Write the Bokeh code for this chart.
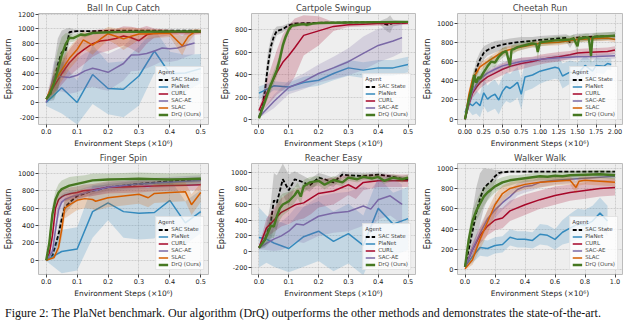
import numpy as np
from bokeh.plotting import figure
from bokeh.layouts import gridplot, column
from bokeh.models import Range1d, FixedTicker, PrintfTickFormatter, Legend, LegendItem, Div
from bokeh.embed import file_html
from bokeh.resources import INLINE

AGENTS = ["SAC State", "PlaNet", "CURL", "SAC-AE", "SLAC", "DrQ (Ours)"]
COLORS = ["#000000", "#348ABD", "#A60628", "#7A68A6", "#D55E00", "#467821"]
TITLES = ["Ball In Cup Catch", "Cartpole Swingup", "Cheetah Run",
          "Finger Spin", "Reacher Easy", "Walker Walk"]
XLABEL = "Environment Steps (×10⁶)"
YLABEL = "Episode Return"

# ---------------- Ball In Cup Catch ----------------
BIC_SAC_X = [0, 0.0125, 0.025, 0.0375, 0.05, 0.0625, 0.075, 0.0875, 0.1, 0.15, 0.2, 0.25, 0.3, 0.35, 0.4, 0.45, 0.5]
BIC_SAC_Y = [45, 100, 280, 520, 680, 700, 955, 965, 970, 970, 975, 975, 975, 975, 975, 975, 975]
BIC_SAC_S = [20, 80, 250, 350, 300, 300, 60, 30, 20, 15, 15, 15, 15, 15, 15, 15, 15]
BIC_PLA_X = [0, 0.05, 0.1, 0.15, 0.2, 0.25, 0.3, 0.35, 0.4, 0.45, 0.5]
BIC_PLA_Y = [0, 200, 0, 380, 190, 180, 360, 700, 390, 400, 460]
BIC_PLA_S = [50, 350, 300, 400, 350, 380, 400, 300, 300, 250, 200]
BIC_CUR_X = [0, 0.025, 0.05, 0.075, 0.1, 0.125, 0.15, 0.175, 0.2, 0.225, 0.25, 0.275, 0.3, 0.325, 0.35, 0.4, 0.45, 0.5]
BIC_CUR_Y = [45, 220, 390, 540, 650, 730, 800, 835, 850, 870, 905, 880, 840, 920, 945, 950, 950, 955]
BIC_CUR_S = [20, 100, 150, 180, 200, 200, 180, 160, 150, 130, 130, 150, 170, 120, 60, 40, 30, 30]
BIC_SAE_X = [0, 0.025, 0.05, 0.075, 0.1, 0.125, 0.15, 0.175, 0.2, 0.225, 0.25, 0.275, 0.3, 0.325, 0.35, 0.375, 0.4, 0.425, 0.45, 0.48]
BIC_SAE_Y = [0, 360, 350, 340, 370, 430, 465, 440, 410, 470, 530, 645, 650, 665, 700, 740, 730, 740, 775, 810]
BIC_SAE_S = [20, 200, 200, 220, 230, 240, 250, 260, 250, 240, 230, 220, 220, 200, 190, 180, 180, 170, 160, 150]
BIC_SLA_X = [0, 0.025, 0.05, 0.075, 0.1, 0.12, 0.15, 0.175, 0.2, 0.225, 0.25, 0.275, 0.3, 0.35, 0.4, 0.44, 0.46, 0.48, 0.5]
BIC_SLA_Y = [45, 280, 440, 600, 720, 850, 780, 860, 935, 900, 865, 900, 930, 935, 940, 770, 900, 960, 970]
BIC_SLA_S = [20, 150, 150, 150, 150, 120, 130, 110, 90, 110, 150, 120, 80, 60, 50, 130, 80, 40, 30]
BIC_DRQ_X = [0, 0.0125, 0.025, 0.0375, 0.05, 0.0625, 0.075, 0.0875, 0.1, 0.1125, 0.125, 0.15, 0.175, 0.2, 0.25, 0.3, 0.35, 0.4, 0.45, 0.5]
BIC_DRQ_Y = [45, 120, 260, 440, 640, 790, 880, 875, 900, 925, 915, 945, 950, 955, 960, 962, 963, 965, 965, 965]
BIC_DRQ_S = [20, 80, 200, 280, 250, 150, 60, 50, 40, 30, 30, 20, 20, 15, 15, 15, 15, 15, 15, 15]

# ---------------- Cartpole Swingup ----------------
CPS_SAC_X = [0, 0.01, 0.02, 0.03, 0.04, 0.05, 0.06, 0.08, 0.1, 0.12, 0.15, 0.2, 0.3, 0.4, 0.43, 0.44, 0.45, 0.5]
CPS_SAC_Y = [20, 100, 250, 480, 650, 740, 790, 805, 840, 855, 858, 862, 865, 866, 845, 850, 860, 868]
CPS_SAC_S = [10, 60, 100, 120, 80, 60, 40, 30, 20, 15, 10, 8, 8, 8, 60, 80, 30, 8]
CPS_PLA_X = [0, 0.05, 0.1, 0.15, 0.2, 0.25, 0.3, 0.35, 0.4, 0.45, 0.5]
CPS_PLA_Y = [235, 300, 290, 330, 350, 410, 460, 440, 460, 460, 490]
CPS_PLA_S = [60, 40, 40, 50, 50, 60, 70, 70, 70, 70, 70]
CPS_CUR_X = [0, 0.02, 0.04, 0.06, 0.08, 0.1, 0.12, 0.15, 0.2, 0.25, 0.3, 0.35, 0.4, 0.45, 0.5]
CPS_CUR_Y = [80, 200, 310, 420, 510, 570, 640, 750, 790, 830, 845, 850, 855, 858, 860]
CPS_CUR_S = [20, 100, 150, 200, 250, 270, 260, 180, 130, 40, 20, 20, 20, 20, 15]
CPS_SAE_X = [0, 0.05, 0.1, 0.15, 0.2, 0.25, 0.3, 0.35, 0.4, 0.45, 0.48]
CPS_SAE_Y = [20, 160, 285, 340, 410, 460, 515, 590, 660, 700, 730]
CPS_SAE_S = [10, 60, 60, 70, 80, 100, 120, 150, 150, 140, 130]
CPS_DRQ_X = [0, 0.02, 0.04, 0.06, 0.07, 0.08, 0.09, 0.1, 0.11, 0.13, 0.15, 0.16, 0.18, 0.2, 0.3, 0.4, 0.5]
CPS_DRQ_Y = [10, 160, 310, 440, 540, 660, 740, 800, 835, 845, 850, 845, 855, 860, 865, 868, 870]
CPS_DRQ_S = [10, 40, 60, 60, 60, 50, 40, 30, 20, 15, 12, 20, 12, 10, 8, 8, 8]

# ---------------- Cheetah Run ----------------
CHR_SAC_X = [0, 0.05, 0.1, 0.15, 0.2, 0.25, 0.3, 0.4, 0.5, 0.6, 0.75, 0.9, 1.0, 1.1, 1.25, 1.35, 1.4, 1.45, 1.5, 1.6, 1.75, 1.9, 2.0]
CHR_SAC_Y = [0, 180, 340, 520, 620, 690, 720, 755, 775, 790, 805, 815, 825, 830, 840, 845, 800, 845, 850, 855, 860, 865, 870]
CHR_SAC_S = [5, 60, 80, 90, 80, 70, 60, 60, 50, 50, 50, 40, 40, 40, 40, 40, 60, 40, 40, 40, 40, 40, 40]
CHR_PLA_X = [0, 0.05, 0.1, 0.15, 0.2, 0.25, 0.3, 0.35, 0.4, 0.45, 0.5, 0.55, 0.6, 0.65, 0.7, 0.75, 0.8, 0.9, 1.0, 1.1, 1.2, 1.25, 1.3, 1.4, 1.5, 1.6, 1.7, 1.75, 1.85, 1.9, 1.95]
CHR_PLA_Y = [70, 170, 140, 180, 140, 275, 210, 240, 260, 200, 290, 340, 320, 350, 385, 260, 440, 460, 500, 520, 540, 530, 450, 490, 470, 560, 500, 560, 550, 580, 570]
CHR_PLA_S = [30, 80, 100, 120, 120, 140, 140, 150, 150, 150, 150, 150, 150, 160, 160, 160, 150, 140, 130, 120, 120, 120, 130, 120, 120, 100, 100, 80, 80, 60, 60]
CHR_CUR_X = [0, 0.05, 0.1, 0.15, 0.2, 0.3, 0.4, 0.5, 0.6, 0.75, 0.9, 1.0, 1.1, 1.25, 1.4, 1.5, 1.6, 1.75, 1.9, 2.0]
CHR_CUR_Y = [0, 150, 270, 330, 380, 440, 480, 520, 550, 580, 600, 620, 635, 650, 670, 690, 695, 700, 705, 720]
CHR_CUR_S = [5, 40, 50, 60, 60, 60, 60, 60, 60, 60, 50, 50, 50, 50, 40, 40, 40, 40, 40, 40]
CHR_SAE_X = [0, 0.05, 0.1, 0.15, 0.2, 0.3, 0.4, 0.5, 0.6, 0.75, 0.9, 1.0, 1.25, 1.5, 1.75, 2.0]
CHR_SAE_Y = [0, 160, 290, 360, 420, 480, 520, 555, 575, 600, 615, 625, 640, 650, 652, 660]
CHR_SAE_S = [5, 40, 50, 50, 50, 40, 40, 40, 40, 40, 30, 30, 30, 30, 30, 30]
CHR_SLA_X = [0, 0.05, 0.1, 0.15, 0.2, 0.3, 0.4, 0.5, 0.6, 0.75, 0.9, 1.0, 1.25, 1.5, 1.75, 1.9, 2.0]
CHR_SLA_Y = [0, 250, 420, 480, 545, 600, 650, 700, 725, 750, 775, 790, 800, 830, 840, 845, 830]
CHR_SLA_S = [5, 50, 50, 40, 40, 40, 40, 40, 40, 30, 30, 30, 30, 30, 30, 30, 30]
CHR_DRQ_X = [0, 0.05, 0.1, 0.12, 0.15, 0.18, 0.2, 0.25, 0.3, 0.35, 0.4, 0.45, 0.5, 0.55, 0.6, 0.62, 0.65, 0.7, 0.75, 0.8, 0.85, 0.9, 0.95, 0.97, 1.0, 1.1, 1.2, 1.3, 1.4, 1.45, 1.5, 1.52, 1.55, 1.6, 1.65, 1.68, 1.7, 1.75, 1.8, 1.9, 2.0]
CHR_DRQ_Y = [0, 200, 350, 460, 380, 440, 420, 490, 550, 600, 590, 650, 690, 710, 560, 720, 730, 750, 760, 770, 780, 790, 780, 700, 800, 810, 820, 825, 830, 840, 760, 845, 840, 850, 850, 660, 850, 860, 860, 865, 870]
CHR_DRQ_S = [5, 60, 80, 80, 80, 70, 70, 60, 60, 60, 50, 50, 50, 50, 80, 50, 50, 40, 40, 40, 40, 40, 40, 80, 40, 40, 40, 40, 40, 40, 80, 40, 40, 40, 40, 100, 40, 40, 40, 40, 40]

# ---------------- Finger Spin ----------------
FSP_SAC_X = [0, 0.02, 0.04, 0.05, 0.06, 0.08, 0.1, 0.15, 0.2, 0.25, 0.3, 0.35, 0.4, 0.45, 0.5]
FSP_SAC_Y = [0, 50, 300, 470, 610, 680, 740, 800, 840, 860, 880, 895, 910, 920, 930]
FSP_SAC_S = [5, 30, 100, 100, 80, 60, 50, 40, 40, 40, 40, 30, 30, 30, 30]
FSP_PLA_X = [0, 0.05, 0.1, 0.15, 0.2, 0.25, 0.3, 0.35, 0.4, 0.45, 0.5]
FSP_PLA_Y = [0, 100, 130, 560, 660, 560, 540, 550, 690, 430, 560]
FSP_PLA_S = [10, 250, 250, 300, 200, 300, 300, 300, 250, 250, 250]
FSP_CUR_X = [0, 0.01, 0.02, 0.03, 0.04, 0.05, 0.06, 0.08, 0.1, 0.12, 0.15, 0.2, 0.25, 0.3, 0.35, 0.4, 0.45, 0.5]
FSP_CUR_Y = [0, 80, 280, 600, 700, 730, 750, 770, 780, 800, 810, 840, 845, 850, 855, 860, 865, 870]
FSP_CUR_S = [5, 40, 100, 120, 100, 80, 70, 70, 70, 70, 70, 70, 70, 70, 60, 60, 60, 60]
FSP_SAE_X = [0, 0.02, 0.03, 0.04, 0.05, 0.06, 0.08, 0.1, 0.15, 0.2, 0.25, 0.3, 0.35, 0.4, 0.45, 0.5]
FSP_SAE_Y = [0, 100, 350, 580, 670, 700, 730, 750, 800, 840, 860, 880, 890, 900, 910, 920]
FSP_SAE_S = [5, 40, 100, 100, 90, 80, 70, 60, 60, 60, 60, 60, 60, 60, 60, 60]
FSP_SLA_X = [0, 0.025, 0.04, 0.05, 0.06, 0.08, 0.1, 0.125, 0.15, 0.16, 0.2, 0.25, 0.3, 0.33, 0.35, 0.4, 0.45, 0.47, 0.5]
FSP_SLA_Y = [0, 30, 150, 350, 600, 650, 690, 710, 700, 680, 720, 740, 760, 720, 770, 780, 790, 640, 780]
FSP_SLA_S = [5, 20, 60, 100, 120, 120, 110, 110, 110, 110, 110, 110, 110, 110, 110, 110, 110, 120, 110]
FSP_DRQ_X = [0, 0.01, 0.02, 0.03, 0.04, 0.05, 0.075, 0.1, 0.125, 0.15, 0.2, 0.25, 0.3, 0.35, 0.4, 0.45, 0.5]
FSP_DRQ_Y = [0, 200, 530, 700, 780, 820, 860, 880, 900, 920, 930, 935, 940, 935, 930, 935, 940]
FSP_DRQ_S = [5, 80, 100, 100, 100, 100, 100, 90, 80, 80, 70, 70, 70, 70, 70, 70, 60]

# ---------------- Reacher Easy ----------------
REA_SAC_X = [0, 0.02, 0.04, 0.05, 0.06, 0.08, 0.1, 0.12, 0.15, 0.17, 0.2, 0.22, 0.25, 0.28, 0.3, 0.35, 0.4, 0.45, 0.5]
REA_SAC_Y = [50, 150, 380, 650, 620, 920, 780, 920, 880, 840, 940, 920, 880, 980, 970, 960, 980, 950, 910]
REA_SAC_S = [20, 100, 250, 350, 350, 200, 200, 100, 80, 80, 60, 60, 60, 40, 40, 40, 30, 30, 30]
REA_PLA_X = [0, 0.025, 0.05, 0.1, 0.15, 0.2, 0.25, 0.3, 0.35, 0.4, 0.45, 0.5]
REA_PLA_Y = [180, 160, 110, 40, 190, 260, 130, 230, 80, 550, 350, 420]
REA_PLA_S = [380, 300, 300, 300, 380, 380, 380, 380, 380, 400, 400, 400]
REA_CUR_X = [0, 0.025, 0.05, 0.075, 0.1, 0.125, 0.15, 0.175, 0.2, 0.25, 0.3, 0.325, 0.35, 0.4, 0.45, 0.5]
REA_CUR_Y = [50, 300, 400, 500, 550, 600, 620, 680, 740, 770, 850, 800, 880, 900, 900, 900]
REA_CUR_S = [20, 120, 150, 180, 200, 200, 200, 200, 180, 170, 130, 130, 100, 80, 80, 80]
REA_SAE_X = [0, 0.05, 0.075, 0.1, 0.125, 0.15, 0.2, 0.25, 0.3, 0.35, 0.375, 0.4, 0.44, 0.48]
REA_SAE_Y = [50, 160, 200, 260, 350, 340, 450, 490, 510, 580, 540, 660, 710, 600]
REA_SAE_S = [20, 150, 180, 200, 220, 230, 250, 250, 250, 250, 250, 250, 250, 250]
REA_DRQ_X = [0, 0.02, 0.04, 0.05, 0.06, 0.07, 0.08, 0.1, 0.12, 0.13, 0.14, 0.15, 0.17, 0.2, 0.22, 0.25, 0.28, 0.3, 0.33, 0.35, 0.38, 0.4, 0.42, 0.45, 0.48, 0.5]
REA_DRQ_Y = [50, 150, 330, 320, 450, 550, 600, 640, 720, 780, 700, 830, 880, 900, 850, 910, 880, 940, 920, 950, 930, 950, 900, 940, 920, 940]
REA_DRQ_S = [20, 80, 150, 150, 150, 150, 140, 120, 100, 100, 100, 80, 70, 60, 60, 50, 50, 40, 40, 40, 40, 40, 40, 40, 40, 40]

# ---------------- Walker Walk ----------------
WAW_SAC_X = [0, 0.025, 0.05, 0.075, 0.1, 0.125, 0.15, 0.175, 0.2, 0.225, 0.25, 0.3, 0.4, 0.5, 0.6, 0.7, 0.8, 0.9, 1.0]
WAW_SAC_Y = [30, 200, 380, 560, 700, 800, 840, 870, 920, 950, 960, 965, 965, 965, 965, 965, 965, 965, 965]
WAW_SAC_S = [10, 100, 200, 250, 250, 200, 150, 120, 60, 30, 15, 10, 10, 10, 10, 10, 10, 10, 10]
WAW_PLA_X = [0, 0.05, 0.1, 0.15, 0.2, 0.25, 0.3, 0.35, 0.4, 0.45, 0.5, 0.55, 0.6, 0.65, 0.7, 0.75, 0.8, 0.85, 0.9, 0.95]
WAW_PLA_Y = [30, 130, 220, 210, 240, 250, 320, 300, 300, 290, 350, 340, 300, 370, 410, 450, 440, 480, 560, 480]
WAW_PLA_S = [10, 60, 80, 80, 80, 80, 80, 80, 80, 80, 100, 100, 100, 120, 140, 150, 150, 150, 150, 150]
WAW_CUR_X = [0, 0.05, 0.1, 0.15, 0.2, 0.25, 0.3, 0.4, 0.5, 0.6, 0.7, 0.8, 0.9, 1.0]
WAW_CUR_Y = [30, 200, 340, 430, 490, 510, 580, 640, 690, 730, 760, 780, 800, 810]
WAW_CUR_S = [10, 60, 80, 90, 100, 100, 100, 100, 90, 90, 80, 80, 80, 80]
WAW_SAE_X = [0, 0.05, 0.1, 0.15, 0.2, 0.25, 0.3, 0.35, 0.4, 0.45, 0.5, 0.6, 0.7, 0.8, 0.9, 1.0]
WAW_SAE_Y = [30, 200, 360, 500, 590, 660, 720, 790, 820, 830, 860, 880, 890, 900, 910, 920]
WAW_SAE_S = [10, 60, 80, 80, 80, 70, 70, 60, 60, 50, 50, 40, 40, 40, 40, 40]
WAW_SLA_X = [0, 0.05, 0.1, 0.15, 0.2, 0.25, 0.3, 0.4, 0.5, 0.6, 0.7, 0.74, 0.76, 0.8, 0.9, 1.0]
WAW_SLA_Y = [10, 100, 300, 470, 640, 750, 800, 840, 860, 870, 880, 810, 870, 880, 870, 860]
WAW_SLA_S = [10, 50, 100, 120, 100, 80, 60, 50, 50, 40, 40, 60, 40, 40, 40, 40]
WAW_DRQ_X = [0, 0.025, 0.05, 0.075, 0.1, 0.125, 0.15, 0.175, 0.2, 0.25, 0.3, 0.35, 0.4, 0.45, 0.5, 0.55, 0.6, 0.65, 0.7, 0.8, 0.9, 1.0]
WAW_DRQ_Y = [30, 300, 480, 580, 650, 720, 760, 790, 820, 860, 880, 890, 900, 910, 920, 915, 925, 920, 930, 935, 940, 930]
WAW_DRQ_S = [10, 80, 100, 100, 100, 90, 80, 70, 60, 50, 50, 40, 40, 40, 40, 40, 40, 40, 40, 40, 40, 40]

CAPTION = ("Figure 2: The PlaNet benchmark. Our algorithm (DrQ) outperforms the other methods "
           "and demonstrates the state-of-the-art.")

FONT = "DejaVu Sans"


def panel(title, series, xr, yr, xticks, yticks, xfmt, width, height,
          bl, br, bt, bb):
    p = figure(width=width, height=height, output_backend="svg", toolbar_location=None,
               x_range=Range1d(*xr), y_range=Range1d(*yr),
               min_border_left=bl, min_border_right=br, min_border_top=bt, min_border_bottom=bb)
    p.title.text = title
    p.title.align = "center"
    p.title.text_font = FONT
    p.title.text_font_size = "8.5px"
    p.title.text_font_style = "normal"
    p.title.standoff = 1
    p.title.offset = 0
    p.background_fill_color = "#eeeeee"
    p.border_fill_color = "white"
    p.outline_line_color = "#bcbcbc"
    p.outline_line_width = 1
    p.grid.grid_line_color = "#b9b9b9"
    p.grid.grid_line_width = 0.6
    p.grid.grid_line_dash = "2 1"
    p.xaxis.ticker = FixedTicker(ticks=xticks)
    p.yaxis.ticker = FixedTicker(ticks=yticks)
    p.xaxis.formatter = PrintfTickFormatter(format=xfmt)
    p.yaxis.formatter = PrintfTickFormatter(format="%d")
    p.xaxis.axis_label = XLABEL
    p.yaxis.axis_label = YLABEL
    for ax in (p.xaxis, p.yaxis):
        ax.axis_line_color = None
        ax.major_tick_in = 0
        ax.major_tick_out = 3
        ax.major_tick_line_color = "#444444"
        ax.minor_tick_line_color = None
        ax.major_label_text_font = FONT
        ax.major_label_text_font_size = "6.5px"
        ax.major_label_text_color = "#222222"
        ax.major_label_standoff = 1
        ax.axis_label_text_font = FONT
        ax.axis_label_text_font_style = "normal"
        ax.axis_label_text_color = "#222222"
        ax.axis_label_standoff = 2
    p.xaxis.axis_label_text_font_size = "7.5px"
    p.yaxis.axis_label_text_font_size = "8px"

    items = []
    for name, x, y, s in series:
        i = AGENTS.index(name)
        c = COLORS[i]
        xa = np.array(x, dtype=float)
        ya = np.array(y, dtype=float)
        sa = np.array(s, dtype=float)
        p.varea(x=xa, y1=ya - sa, y2=ya + sa, fill_color=c,
                fill_alpha=0.16 if i == 0 else 0.22)
        if i == 0:
            r = p.line(xa, ya, line_color=c, line_width=1.8, line_dash="4 2")
        elif i == 5:
            r = p.line(xa, ya, line_color=c, line_width=2.4)
        else:
            r = p.line(xa, ya, line_color=c, line_width=1.5)
        items.append(LegendItem(label=name, renderers=[r]))

    leg = Legend(items=items, location="bottom_right", title="Agent")
    leg.title_text_font = FONT
    leg.title_text_font_size = "5.5px"
    leg.title_text_font_style = "normal"
    leg.title_standoff = 1
    leg.label_text_font = FONT
    leg.label_text_font_size = "5.5px"
    leg.label_height = 5
    leg.label_standoff = 3
    leg.glyph_width = 10
    leg.glyph_height = 5
    leg.spacing = 1
    leg.padding = 2
    leg.margin = 4
    leg.background_fill_color = "white"
    leg.background_fill_alpha = 0.8
    leg.border_line_color = "#cccccc"
    leg.border_line_width = 0.8
    p.add_layout(leg)
    return p


X05 = [0.0, 0.1, 0.2, 0.3, 0.4, 0.5]
X2 = [0.0, 0.25, 0.5, 0.75, 1.0, 1.25, 1.5, 1.75, 2.0]
X1 = [0.0, 0.2, 0.4, 0.6, 0.8, 1.0]

H = 150
p1 = panel(TITLES[0], [
    ("SAC State", BIC_SAC_X, BIC_SAC_Y, BIC_SAC_S),
    ("PlaNet", BIC_PLA_X, BIC_PLA_Y, BIC_PLA_S),
    ("CURL", BIC_CUR_X, BIC_CUR_Y, BIC_CUR_S),
    ("SAC-AE", BIC_SAE_X, BIC_SAE_Y, BIC_SAE_S),
    ("SLAC", BIC_SLA_X, BIC_SLA_Y, BIC_SLA_S),
    ("DrQ (Ours)", BIC_DRQ_X, BIC_DRQ_Y, BIC_DRQ_S)],
    (-0.025, 0.525), (-300, 1210), X05, list(range(-200, 1201, 200)), "%.1f",
    213, H, 34, 5, 13, 24)
p2 = panel(TITLES[1], [
    ("SAC State", CPS_SAC_X, CPS_SAC_Y, CPS_SAC_S),
    ("PlaNet", CPS_PLA_X, CPS_PLA_Y, CPS_PLA_S),
    ("CURL", CPS_CUR_X, CPS_CUR_Y, CPS_CUR_S),
    ("SAC-AE", CPS_SAE_X, CPS_SAE_Y, CPS_SAE_S),
    ("DrQ (Ours)", CPS_DRQ_X, CPS_DRQ_Y, CPS_DRQ_S)],
    (-0.025, 0.525), (-45, 945), X05, list(range(0, 801, 200)), "%.1f",
    206, H, 29, 4, 13, 24)
p3 = panel(TITLES[2], [
    ("SAC State", CHR_SAC_X, CHR_SAC_Y, CHR_SAC_S),
    ("PlaNet", CHR_PLA_X, CHR_PLA_Y, CHR_PLA_S),
    ("CURL", CHR_CUR_X, CHR_CUR_Y, CHR_CUR_S),
    ("SAC-AE", CHR_SAE_X, CHR_SAE_Y, CHR_SAE_S),
    ("SLAC", CHR_SLA_X, CHR_SLA_Y, CHR_SLA_S),
    ("DrQ (Ours)", CHR_DRQ_X, CHR_DRQ_Y, CHR_DRQ_S)],
    (-0.1, 2.1), (-55, 1100), X2, list(range(0, 1001, 200)), "%.2f",
    205, H, 31, 2, 13, 24)
p4 = panel(TITLES[3], [
    ("SAC State", FSP_SAC_X, FSP_SAC_Y, FSP_SAC_S),
    ("PlaNet", FSP_PLA_X, FSP_PLA_Y, FSP_PLA_S),
    ("CURL", FSP_CUR_X, FSP_CUR_Y, FSP_CUR_S),
    ("SAC-AE", FSP_SAE_X, FSP_SAE_Y, FSP_SAE_S),
    ("SLAC", FSP_SLA_X, FSP_SLA_Y, FSP_SLA_S),
    ("DrQ (Ours)", FSP_DRQ_X, FSP_DRQ_Y, FSP_DRQ_S)],
    (-0.025, 0.525), (-165, 1115), X05, list(range(0, 1001, 200)), "%.1f",
    213, H, 34, 5, 13, 24)
p5 = panel(TITLES[4], [
    ("SAC State", REA_SAC_X, REA_SAC_Y, REA_SAC_S),
    ("PlaNet", REA_PLA_X, REA_PLA_Y, REA_PLA_S),
    ("CURL", REA_CUR_X, REA_CUR_Y, REA_CUR_S),
    ("SAC-AE", REA_SAE_X, REA_SAE_Y, REA_SAE_S),
    ("DrQ (Ours)", REA_DRQ_X, REA_DRQ_Y, REA_DRQ_S)],
    (-0.025, 0.525), (-290, 1120), X05, list(range(-200, 1001, 200)), "%.1f",
    206, H, 29, 4, 13, 24)
p6 = panel(TITLES[5], [
    ("SAC State", WAW_SAC_X, WAW_SAC_Y, WAW_SAC_S),
    ("PlaNet", WAW_PLA_X, WAW_PLA_Y, WAW_PLA_S),
    ("CURL", WAW_CUR_X, WAW_CUR_Y, WAW_CUR_S),
    ("SAC-AE", WAW_SAE_X, WAW_SAE_Y, WAW_SAE_S),
    ("SLAC", WAW_SLA_X, WAW_SLA_Y, WAW_SLA_S),
    ("DrQ (Ours)", WAW_DRQ_X, WAW_DRQ_Y, WAW_DRQ_S)],
    (-0.05, 1.05), (-45, 1045), X1, list(range(0, 1001, 200)), "%.1f",
    205, H, 31, 2, 13, 24)

grid = gridplot([[p1, p2, p3], [p4, p5, p6]], toolbar_location=None)

cap = Div(text='<div style="margin-top:1px;font-family:\'Liberation Serif\';font-size:12px;'
               'line-height:13px;white-space:nowrap;color:#111;">' + CAPTION + '</div>',
          width=624, height=15)

layout = column(grid, cap, spacing=0)
open("out.html", "w").write(file_html(layout, INLINE))
